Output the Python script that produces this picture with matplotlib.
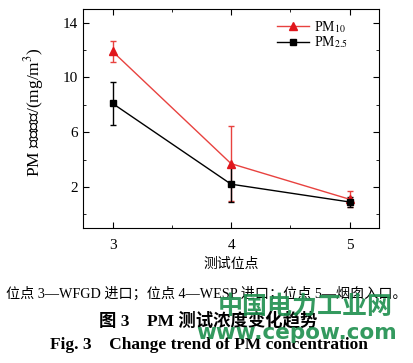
import matplotlib
matplotlib.use('Agg')
import matplotlib.pyplot as plt
from matplotlib.ticker import MultipleLocator

plt.rcParams['font.family'] = ['Liberation Serif', 'Noto Sans CJK SC']
plt.rcParams['mathtext.fontset'] = 'stix'

# site positions and measured concentrations (mg/m3)
sites = [3, 4, 5]
pm10 = [11.9, 3.7, 1.1]
pm10_err = [0.8, 2.75, 0.6]
pm25 = [8.1, 2.2, 0.9]
pm25_err = [1.6, 1.3, 0.35]

fig = plt.figure(figsize=(4.13, 3.63), dpi=100)
ax = fig.add_axes([0.201, 0.372, 0.717, 0.603])

red = '#e8423f'
ax.errorbar(sites, pm10, yerr=pm10_err, fmt='none', ecolor=red, elinewidth=1.0, capsize=2.5)
ax.errorbar(sites, pm25, yerr=pm25_err, fmt='none', ecolor='black', elinewidth=1.0, capsize=2.5)
ax.plot(sites, pm10, color=red, marker='^', markersize=6, markerfacecolor='#e0161c',
        markeredgecolor='#e0161c', lw=1.0, label='PM$_{10}$')
ax.plot(sites, pm25, color='black', marker='s', markersize=5, lw=1.0, label='PM$_{2.5}$')

ax.set_xlim(2.75, 5.25)
ax.set_ylim(-1, 15)
ax.set_xticks(sites)
ax.xaxis.set_minor_locator(MultipleLocator(0.5))
ax.set_yticks([2, 6, 10, 14])
ax.yaxis.set_minor_locator(MultipleLocator(2))
ax.tick_params(which='both', direction='in', top=True, right=True, labelsize=11)
ax.tick_params(which='major', length=4)
ax.tick_params(which='minor', length=2.5)
ax.tick_params(axis='x', pad=8)

ax.set_ylabel('PM 监测浓度/(mg/m$^3$)', fontsize=12.5)
ax.yaxis.set_label_coords(-0.125, 0.53)
ax.set_xlabel('测试位点', fontsize=10)

ax.legend(loc='upper right', frameon=False, fontsize=10, handlelength=2.3,
          bbox_to_anchor=(0.935, 1.013), labelspacing=0.0, handletextpad=0.3)

fig.text(0.5, 0.192, '位点 3—WFGD 进口；位点 4—WESP 进口；位点 5—烟囱入口。',
         ha='center', va='center', fontsize=10.2)
fig.text(0.505, 0.116, '图 3    PM 测试浓度变化趋势', ha='center', va='center',
         fontsize=12.5, fontweight='bold')
fig.text(0.505, 0.05, 'Fig. 3    Change trend of PM concentration', ha='center',
         va='center', fontsize=12.5, fontweight='bold')

# watermark
fig.text(0.95, 0.155, '中国电力工业网', ha='right', va='center', fontsize=18,
         color='#1e8f4e', fontweight='bold', alpha=0.9)
fig.text(0.962, 0.083, 'www.cepow.com', ha='right', va='center', fontsize=15.5,
         color='#1e8f4e', fontweight='bold', alpha=0.9, family='DejaVu Sans')

fig.savefig('out.png', dpi=100)
